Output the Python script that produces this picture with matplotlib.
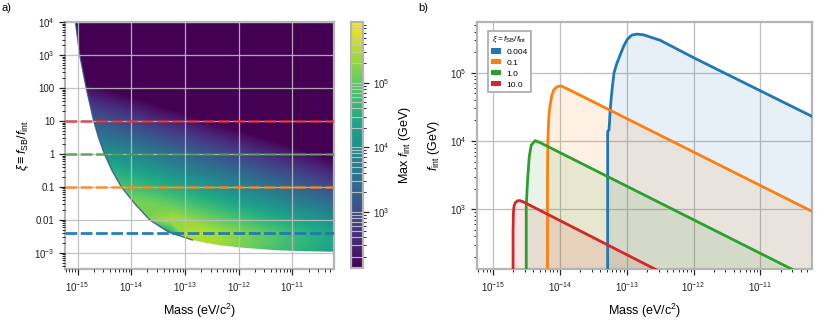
import numpy as np
import matplotlib
matplotlib.use('Agg')
import matplotlib.pyplot as plt
from matplotlib.colors import LogNorm
from matplotlib.ticker import FixedLocator, NullFormatter, LogLocator
from matplotlib.patches import Patch
import matplotlib.cm as cm

plt.rcParams['font.family'] = ['Liberation Sans', 'DejaVu Sans']
plt.rcParams['mathtext.fontset'] = 'custom'
plt.rcParams['mathtext.rm'] = 'Liberation Sans'
plt.rcParams['mathtext.it'] = 'Liberation Sans:italic'
plt.rcParams['mathtext.bf'] = 'Liberation Sans:bold'

# ------------------------------------------------------------------ data
xi_values = [0.004, 0.1, 1.0, 10.0]
xi_labels = ['0.004', '0.1', '1.0', '10.0']
series_colors = ['#1f77b4', '#ff7f0e', '#2ca02c', '#d62728']

# panel b curves: log10(mass / eV c^-2), log10(f_int / GeV)
blue_logm = [-13.285, -13.285, -13.265, -13.25, -13.24, -13.215, -13.19, -13.15,
             -13.09, -13.04, -12.99, -12.925, -12.85, -12.75, -12.5, -12.0, -10.22]
blue_logf = [1.9, 4.14, 4.16, 4.40, 4.54, 4.79, 5.0, 5.13,
             5.28, 5.40, 5.49, 5.55, 5.565, 5.555, 5.475, 5.22, 4.356]
orange_logm = [-14.185, -14.185, -14.18, -14.165, -14.15, -14.12, -14.09, -14.04,
               -13.98, -13.9, -10.22]
orange_logf = [1.9, 3.5, 4.0, 4.35, 4.5, 4.67, 4.75, 4.795, 4.805, 4.77, 2.965]
green_logm = [-14.503, -14.503, -14.49, -14.483, -14.458, -14.428, -14.369, -14.294, -10.22]
green_logf = [1.9, 3.04, 3.3, 3.43, 3.77, 3.94, 4.005, 3.975, 1.97]
red_logm = [-14.70, -14.70, -14.695, -14.685, -14.665, -14.63, -14.60, -14.55, -12.30]
red_logf = [1.9, 2.7, 2.95, 3.05, 3.10, 3.125, 3.127, 3.11, 1.985]

# panel a field: log10(max f_int) read on a (log10 mass, log10 xi) grid
field_logm = [-15.5, -15.0, -14.5, -14.0, -13.5, -13.25, -13.0, -12.75, -12.5, -12.0, -11.0, -10.0]
field_logxi = [4.5, 3.5, 2.5, 1.5, 0.5, -0.5, -1.5, -2.0, -2.4, -2.7, -3.0]
field_logf = [
    [0.08, -0.17, -0.42, -0.67, -0.92, -1.05, -1.17, -1.30, -1.42, -1.67, -2.17, -2.67],
    [1.08, 0.83, 0.58, 0.33, 0.08, -0.05, -0.17, -0.30, -0.42, -0.67, -1.17, -1.67],
    [2.08, 1.83, 1.58, 1.33, 1.08, 0.96, 0.83, 0.71, 0.58, 0.33, -0.17, -0.67],
    [3.08, 2.83, 2.58, 2.33, 2.08, 1.96, 1.83, 1.71, 1.58, 1.33, 0.83, 0.33],
    [4.08, 3.83, 3.58, 3.33, 3.08, 2.96, 2.83, 2.71, 2.58, 2.33, 1.83, 1.33],
    [5.08, 4.83, 4.58, 4.33, 4.08, 3.96, 3.83, 3.71, 3.58, 3.33, 2.83, 2.33],
    [5.5, 5.5, 5.4, 5.2, 5.08, 4.96, 4.83, 4.71, 4.58, 4.33, 3.83, 3.33],
    [5.0, 5.0, 5.0, 5.0, 5.30, 5.46, 5.33, 5.21, 5.08, 4.83, 4.33, 3.83],
    [4.0, 4.0, 4.0, 4.0, 3.60, 4.40, 5.48, 5.555, 5.475, 5.22, 4.73, 4.25],
    [4.5, 4.5, 4.5, 4.5, 4.5, 4.8, 5.3, 5.4, 5.45, 5.20, 4.72, 4.24],
    [4.3, 4.3, 4.3, 4.3, 4.3, 4.6, 5.1, 5.2, 5.30, 5.05, 4.60, 4.15],
]
# edge of the allowed region (white outside)
edge_logm = [-15.06, -15.04, -14.96, -14.90, -14.84, -14.77, -14.70, -14.61, -14.50,
             -14.36, -14.185, -13.94, -13.658, -13.47, -13.286, -13.05, -12.85, -12.6,
             -12.354, -12.0, -11.733, -11.3, -10.8, -10.15]
edge_logxi = [4.2, 4.0, 3.0, 2.5, 2.0, 1.5, 1.0, 0.5, 0.0,
              -0.5, -1.0, -1.5, -2.0, -2.2, -2.385, -2.51, -2.616, -2.70,
              -2.768, -2.835, -2.869, -2.92, -2.95, -2.97]

cbar_min, cbar_max = 132.0, 8.7e5
xlog_lim = (-15.235, -10.224)
ylog_lim_a = (-3.5, 4.0)
ylim_b = (132.0, 5.47e5)

# ------------------------------------------------------------------ figure
W, H = 831, 332
fig = plt.figure(figsize=(W / 100, H / 100), dpi=100)
axa = fig.add_axes([65 / W, 1 - 269.3 / H, 269 / W, 247 / H])
cax = fig.add_axes([350.7 / W, 1 - 268.3 / H, 12.3 / W, 246 / H])
axb = fig.add_axes([477.3 / W, 1 - 269.3 / H, 335 / W, 247 / H])

spine_c = '#b4b4b4'
grid_c = '#bdbdbd'
tick_c = '#262626'


def style(ax):
    for s in ax.spines.values():
        s.set_color(spine_c)
        s.set_linewidth(1.6)
    ax.tick_params(which='both', direction='out', color=tick_c, labelsize=7,
                   labelcolor='#222222')
    ax.tick_params(which='major', length=4, width=0.9)
    ax.tick_params(which='minor', length=2.3, width=0.7)


# ---------------- panel a
lo, hi = np.log10(cbar_min), np.log10(cbar_max)
levels = np.linspace(lo, hi, 160)
cs = axa.contourf(field_logm, field_logxi, np.array(field_logf, dtype=float),
                  levels=levels, cmap='viridis', extend='both', zorder=1)
cs.set_edgecolor('face')
cs.set_linewidth(0.3)

# white area outside the allowed region + its dark rim on the steep part
outside_m = edge_logm + [-9.9, -9.9, -15.6, -15.6]
outside_x = edge_logxi + [-2.97, -3.7, -3.7, 4.2]
axa.fill(outside_m, outside_x, color='white', lw=0, zorder=2)
n_rim = 17
axa.plot(edge_logm[:n_rim], edge_logxi[:n_rim], color='#3b4f8a', lw=1.0, alpha=0.85,
         zorder=2.5, solid_capstyle='butt')

for xv, c in zip(xi_values, series_colors):
    alpha = 0.95 if xv < 0.01 else 0.7
    axa.axhline(np.log10(xv), color=c, lw=2.0, dashes=(4.2, 1.3), alpha=alpha, zorder=4)

axa.set_xlim(*xlog_lim)
axa.set_ylim(*ylog_lim_a)
style(axa)
xmaj = [-15, -14, -13, -12, -11]
axa.xaxis.set_major_locator(FixedLocator(xmaj))
axa.set_xticklabels([r'$10^{%d}$' % v for v in xmaj])
xmin_t = [n + np.log10(k) for n in range(-16, -10) for k in range(2, 10)
          if xlog_lim[0] <= n + np.log10(k) <= xlog_lim[1]]
axa.xaxis.set_minor_locator(FixedLocator(xmin_t))
ymaj = [-3, -2, -1, 0, 1, 2, 3, 4]
ylab = [r'$10^{-3}$', '0.01', '0.1', '1', '10', '100', r'$10^{3}$', r'$10^{4}$']
axa.yaxis.set_major_locator(FixedLocator(ymaj))
axa.set_yticklabels(ylab)
ymin_t = [n + np.log10(k) for n in range(-4, 4) for k in range(2, 10)
          if ylog_lim_a[0] <= n + np.log10(k) <= ylog_lim_a[1]]
axa.yaxis.set_minor_locator(FixedLocator(ymin_t))
axa.grid(True, which='major', color=grid_c, lw=0.9, alpha=0.9, zorder=3)
axa.set_axisbelow(False)
axa.set_xlabel(r'Mass (eV/c$^2$)', fontsize=9, labelpad=6)
axa.set_ylabel(r'$\xi \equiv f_{\rm SB}/f_{\rm int}$', fontsize=9, labelpad=2)

# colorbar
sm = cm.ScalarMappable(norm=LogNorm(cbar_min, cbar_max), cmap='viridis')
cb = fig.colorbar(sm, cax=cax)
cb.outline.set_edgecolor(spine_c)
cb.outline.set_linewidth(1.6)
cax.tick_params(which='both', direction='out', color=tick_c, labelsize=7,
                labelcolor='#222222')
cax.tick_params(which='major', length=4, width=0.9)
cax.tick_params(which='minor', length=2.3, width=0.7)
cax.yaxis.set_major_locator(FixedLocator([1e3, 1e4, 1e5]))
cax.yaxis.set_minor_locator(LogLocator(base=10, subs=np.arange(2, 10)))
cax.yaxis.set_minor_formatter(NullFormatter())
cax.set_yticklabels([r'$10^{3}$', r'$10^{4}$', r'$10^{5}$'])
cax.grid(True, which='both', axis='y', color='#c8c8c8', lw=0.8, alpha=0.9)
cb.set_label(r'Max $f_{\rm int}$ (GeV)', fontsize=9, labelpad=5)

# ---------------- panel b
curves = [(blue_logm, blue_logf), (orange_logm, orange_logf),
          (green_logm, green_logf), (red_logm, red_logf)]
for (lm, lf), c in zip(curves, series_colors):
    m = 10.0 ** np.array(lm)
    f = 10.0 ** np.array(lf)
    axb.fill_between(m, f, 1.0, color=c, alpha=0.11, lw=0, zorder=1)
for (lm, lf), c in zip(curves, series_colors):
    m = 10.0 ** np.array(lm)
    f = 10.0 ** np.array(lf)
    axb.plot(m, f, color=c, lw=2.0, zorder=3, solid_joinstyle='round')

axb.set_xscale('log')
axb.set_yscale('log')
axb.set_xlim(10 ** xlog_lim[0], 10 ** xlog_lim[1])
axb.set_ylim(*ylim_b)
style(axb)
axb.xaxis.set_major_locator(FixedLocator([1e-15, 1e-14, 1e-13, 1e-12, 1e-11]))
axb.set_xticklabels([r'$10^{%d}$' % v for v in xmaj])
axb.xaxis.set_minor_locator(LogLocator(base=10, subs=np.arange(2, 10), numticks=50))
axb.xaxis.set_minor_formatter(NullFormatter())
axb.yaxis.set_major_locator(FixedLocator([1e3, 1e4, 1e5]))
axb.set_yticklabels([r'$10^{3}$', r'$10^{4}$', r'$10^{5}$'])
axb.yaxis.set_minor_locator(LogLocator(base=10, subs=np.arange(2, 10), numticks=50))
axb.yaxis.set_minor_formatter(NullFormatter())
axb.grid(True, which='major', color=grid_c, lw=0.9, zorder=0)
axb.set_axisbelow(True)
axb.set_xlabel(r'Mass (eV/c$^2$)', fontsize=9, labelpad=6)
axb.set_ylabel(r'$f_{\rm int}$ (GeV)', fontsize=9, labelpad=6)

handles = [Patch(facecolor=c, edgecolor='none') for c in series_colors]
leg = axb.legend(handles, xi_labels, title=r'$\xi = f_{\rm SB}/f_{\rm int}$',
                 loc='upper left', bbox_to_anchor=(0.031, 0.966), borderaxespad=0,
                 fontsize=6, title_fontsize=6, fancybox=False, framealpha=1,
                 handlelength=1.1, handleheight=0.6, labelspacing=0.4,
                 borderpad=0.45, handletextpad=0.7)
leg.get_frame().set_edgecolor('#a8a8a8')
leg.get_frame().set_linewidth(1.2)

fig.text(1 / W, 1 - 3 / H, 'a)', fontsize=8, va='top', ha='left')
fig.text(418 / W, 1 - 3 / H, 'b)', fontsize=8, va='top', ha='left')

fig.savefig('out.png', dpi=100)
